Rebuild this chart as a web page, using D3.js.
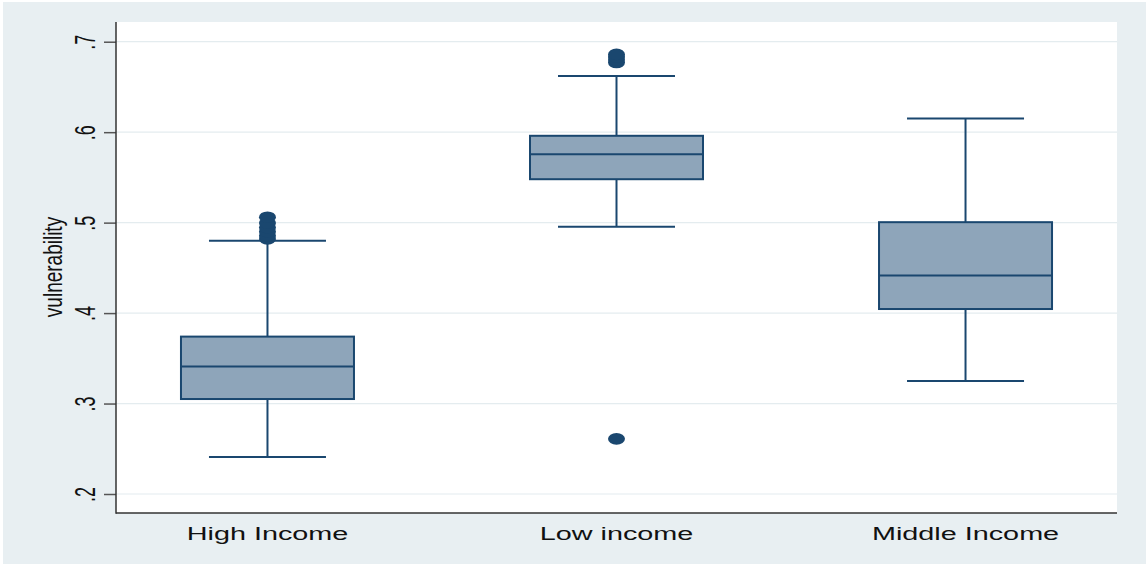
<!DOCTYPE html>
<html>
<head>
<meta charset="utf-8">
<script src="https://cdn.jsdelivr.net/npm/d3@7"></script>
<style>
  html, body { margin: 0; padding: 0; background: #ffffff; }
  svg { display: block; }
  text { font-family: "Liberation Sans", Arial, Helvetica, sans-serif; fill: #111; }
</style>
</head>
<body>
<svg id="chart" width="1146" height="565"></svg>
<script>
// Income groups and their box-plot summaries of vulnerability
const categories = ["High Income", "Low income", "Middle Income"];
const q1 = [0.305, 0.548, 0.4045];
const median = [0.341, 0.5755, 0.4415];
const q3 = [0.374, 0.596, 0.5005];
const whiskerLow = [0.241, 0.4955, 0.325];
const whiskerHigh = [0.480, 0.662, 0.615];
const outliers = [
  [0.482, 0.4855, 0.490, 0.4945, 0.4995, 0.506],
  [0.261, 0.677, 0.680, 0.683, 0.686],
  []
];
const yTicks = [0.2, 0.3, 0.4, 0.5, 0.6, 0.7];
const yTickLabels = [".2", ".3", ".4", ".5", ".6", ".7"];
const yTitle = "vulnerability";

const W = 1146, H = 565;
const plot = { left: 116, right: 1117, top: 22, bottom: 513 };
const stretch = 1.6;           // wide glyph aspect of the text
const navy = "#1a476f";
const boxFill = "#8ea5ba";

const svg = d3.select("#chart");

// graph region
svg.append("rect").attr("x", 3).attr("y", 2).attr("width", W - 3).attr("height", H - 3)
  .attr("fill", "#e8eff2");
// plot region
svg.append("rect").attr("x", plot.left).attr("y", plot.top)
  .attr("width", plot.right - plot.left).attr("height", plot.bottom - plot.top)
  .attr("fill", "#ffffff");

const x = d3.scalePoint().domain(categories).range([plot.left, plot.right]).padding(0.434);
const y = d3.scaleLinear().domain([0.179, 0.7218]).range([plot.bottom, plot.top]);

// grid lines
svg.append("g").selectAll("line").data(yTicks).join("line")
  .attr("x1", plot.left).attr("x2", plot.right)
  .attr("y1", d => y(d)).attr("y2", d => y(d))
  .attr("stroke", "#e4ecef").attr("stroke-width", 1.2);

// y axis with rotated, widened labels
const yAxis = svg.append("g").attr("transform", `translate(${plot.left},0)`)
  .call(d3.axisLeft(y).tickValues(yTicks).tickFormat((d, i) => yTickLabels[i]).tickSize(12).tickPadding(0));
yAxis.select(".domain").remove();
yAxis.selectAll(".tick line").attr("stroke", "#555").attr("stroke-width", 1.5);
yAxis.selectAll(".tick text")
  .attr("x", null).attr("dy", null)
  .attr("text-anchor", "middle")
  .attr("font-size", 18)
  .attr("transform", `translate(-21,0) scale(${stretch},1) rotate(-90)`);

// axis lines
svg.append("line").attr("x1", plot.left).attr("x2", plot.left)
  .attr("y1", plot.top).attr("y2", plot.bottom + 0.75)
  .attr("stroke", "#333").attr("stroke-width", 1.5);
svg.append("line").attr("x1", plot.left).attr("x2", plot.right)
  .attr("y1", plot.bottom).attr("y2", plot.bottom)
  .attr("stroke", "#333").attr("stroke-width", 1.5);

// x category labels
svg.append("g").selectAll("text").data(categories).join("text")
  .attr("transform", d => `translate(${x(d)},540) scale(${stretch},1)`)
  .attr("text-anchor", "middle").attr("font-size", 18)
  .text(d => d);

// y title
svg.append("text")
  .attr("transform", `translate(62,267) scale(1.35,1) rotate(-90)`)
  .attr("text-anchor", "middle").attr("font-size", 19)
  .text(yTitle);

// boxes
const boxHalf = 86.5, capHalf = 58.5;
const g = svg.append("g");
categories.forEach((c, i) => {
  const cx = x(c);
  // whiskers
  g.append("line").attr("x1", cx).attr("x2", cx).attr("y1", y(q3[i])).attr("y2", y(whiskerHigh[i]))
    .attr("stroke", navy).attr("stroke-width", 2);
  g.append("line").attr("x1", cx).attr("x2", cx).attr("y1", y(q1[i])).attr("y2", y(whiskerLow[i]))
    .attr("stroke", navy).attr("stroke-width", 2);
  g.append("line").attr("x1", cx - capHalf).attr("x2", cx + capHalf)
    .attr("y1", y(whiskerHigh[i])).attr("y2", y(whiskerHigh[i]))
    .attr("stroke", navy).attr("stroke-width", 2);
  g.append("line").attr("x1", cx - capHalf).attr("x2", cx + capHalf)
    .attr("y1", y(whiskerLow[i])).attr("y2", y(whiskerLow[i]))
    .attr("stroke", navy).attr("stroke-width", 2);
  // box
  g.append("rect").attr("x", cx - boxHalf).attr("width", 2 * boxHalf)
    .attr("y", y(q3[i])).attr("height", y(q1[i]) - y(q3[i]))
    .attr("fill", boxFill).attr("stroke", navy).attr("stroke-width", 2);
  g.append("line").attr("x1", cx - boxHalf).attr("x2", cx + boxHalf)
    .attr("y1", y(median[i])).attr("y2", y(median[i]))
    .attr("stroke", navy).attr("stroke-width", 2);
  // outside values
  g.append("g").selectAll("ellipse").data(outliers[i]).join("ellipse")
    .attr("cx", cx).attr("cy", d => y(d)).attr("rx", 8.5).attr("ry", 5.8)
    .attr("fill", navy);
});
</script>
</body>
</html>
